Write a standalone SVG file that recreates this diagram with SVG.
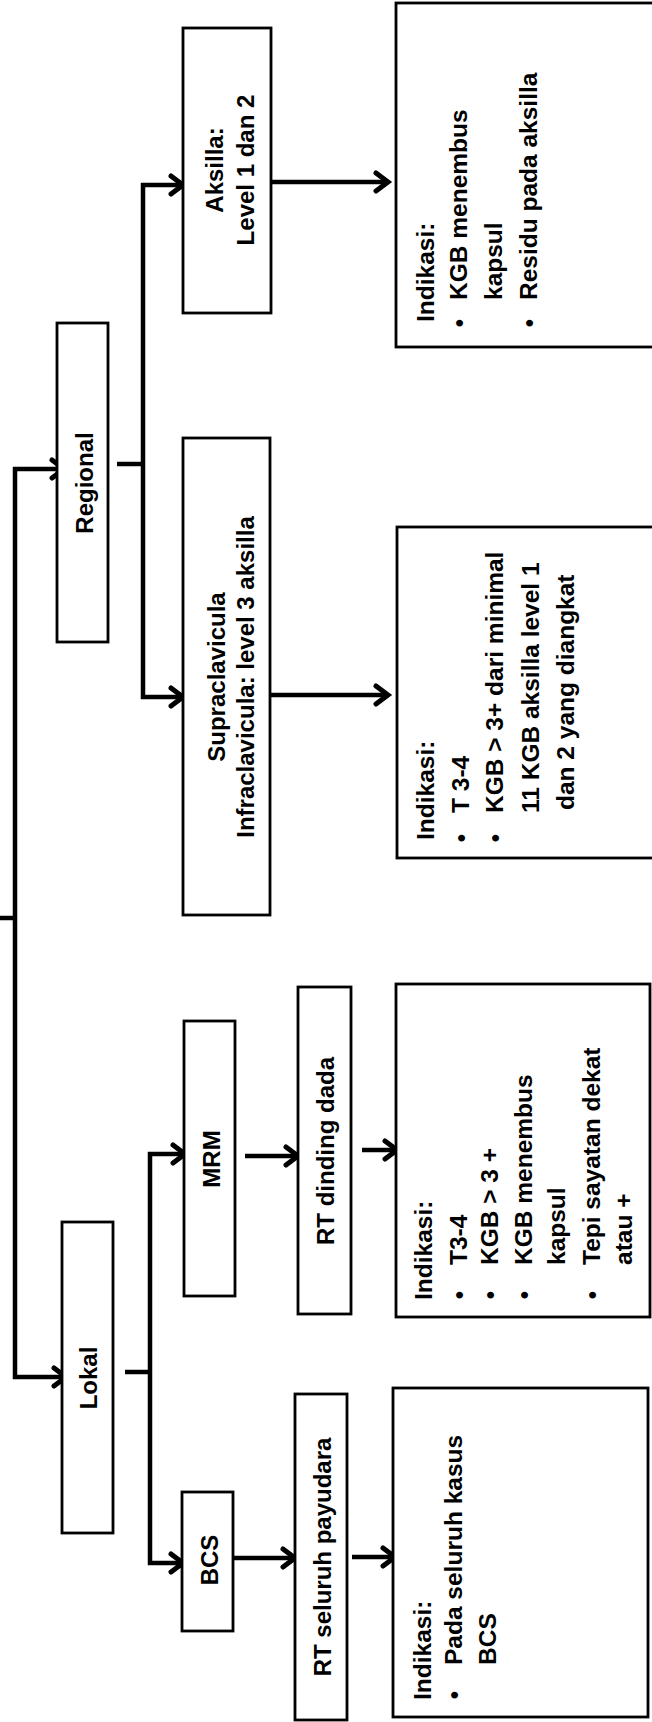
<svg xmlns="http://www.w3.org/2000/svg" width="652" height="1722" viewBox="0 0 652 1722">
<defs>
<style>
.box{fill:#fff;stroke:#000;stroke-width:2.8}
.con{fill:none;stroke:#000;stroke-width:4.5;stroke-linejoin:miter}
.lbl{font-family:"Liberation Sans",Arial,sans-serif;font-weight:bold;font-size:24px;fill:#000;text-anchor:middle;dominant-baseline:central}
.ind{font-family:"Liberation Sans",Arial,sans-serif;font-weight:bold;font-size:24.5px;fill:#000;text-anchor:start;dominant-baseline:central}
.bul{font-family:"Liberation Sans",Arial,sans-serif;font-weight:bold;font-size:24px;fill:#000;text-anchor:middle;dominant-baseline:central}
</style>
<marker id="ah" markerUnits="userSpaceOnUse" viewBox="0 0 18 22" refX="15" refY="11" markerWidth="18" markerHeight="22" orient="auto" overflow="visible">
<path d="M3,2 L15,11 L3,20" fill="none" stroke="#000" stroke-width="5" stroke-linejoin="miter" stroke-linecap="round"/>
</marker>
</defs>
<rect width="652" height="1722" fill="#fff"/>

<g id="connectors">
<path class="con" d="M0,918 H15"/>
<path class="con" d="M15,918 V469 H64" marker-end="url(#ah)"/>
<path class="con" d="M15,918 V1377 H66" marker-end="url(#ah)"/>
<path class="con" d="M117,464 H143"/>
<path class="con" d="M143,464 V185 H183" marker-end="url(#ah)"/>
<path class="con" d="M143,464 V697 H183" marker-end="url(#ah)"/>
<path class="con" d="M272,182 H388" marker-end="url(#ah)"/>
<path class="con" d="M264,695 H388" marker-end="url(#ah)"/>
<path class="con" d="M125,1372 H150"/>
<path class="con" d="M150,1372 V1154 H185" marker-end="url(#ah)"/>
<path class="con" d="M150,1372 V1563 H183" marker-end="url(#ah)"/>
<path class="con" d="M245,1156 H298" marker-end="url(#ah)"/>
<path class="con" d="M362,1150 H397" marker-end="url(#ah)"/>
<path class="con" d="M233,1558 H295" marker-end="url(#ah)"/>
<path class="con" d="M352,1557 H395" marker-end="url(#ah)"/>
</g>

<g id="regional">
<rect class="box" x="57" y="323" width="51" height="319"/>
<text class="lbl" transform="translate(84,483) rotate(-90)">Regional</text>
</g>

<g id="lokal">
<rect class="box" x="62" y="1222" width="51" height="311"/>
<text class="lbl" transform="translate(88,1378) rotate(-90)">Lokal</text>
</g>

<g id="aksilla">
<rect class="box" x="183" y="28" width="88" height="285"/>
<text class="lbl" transform="translate(214,170) rotate(-90)">Aksilla:</text>
<text class="lbl" transform="translate(245,170) rotate(-90)">Level 1 dan 2</text>
</g>

<g id="supraclavicula">
<rect class="box" x="183" y="438" width="87" height="477"/>
<text class="lbl" transform="translate(216,677) rotate(-90)">Supraclavicula</text>
<text class="lbl" transform="translate(245,677) rotate(-90)">Infraclavicula: level 3 aksilla</text>
</g>

<g id="mrm">
<rect class="box" x="184" y="1021" width="51" height="275"/>
<text class="lbl" transform="translate(211,1159) rotate(-90)">MRM</text>
</g>

<g id="bcs">
<rect class="box" x="182" y="1492" width="51" height="139"/>
<text class="lbl" transform="translate(209,1560) rotate(-90)">BCS</text>
</g>

<g id="rt-dinding-dada">
<rect class="box" x="298" y="987" width="53" height="327"/>
<text class="lbl" transform="translate(325,1151) rotate(-90)">RT dinding dada</text>
</g>

<g id="rt-seluruh-payudara">
<rect class="box" x="295" y="1394" width="52" height="326"/>
<text class="lbl" transform="translate(322,1557) rotate(-90)">RT seluruh payudara</text>
</g>

<g id="indikasi-aksilla">
<rect class="box" x="396" y="3" width="260" height="344"/>
<text class="ind" transform="translate(425,322) rotate(-90)">Indikasi:</text>
<text class="bul" transform="translate(458,323) rotate(-90)">•</text>
<text class="ind" transform="translate(458,300) rotate(-90)">KGB menembus</text>
<text class="ind" transform="translate(493,300) rotate(-90)">kapsul</text>
<text class="bul" transform="translate(528,323) rotate(-90)">•</text>
<text class="ind" transform="translate(528,300) rotate(-90)">Residu pada aksilla</text>
</g>

<g id="indikasi-supraclavicula">
<rect class="box" x="397" y="527" width="260" height="331"/>
<text class="ind" transform="translate(425,840) rotate(-90)">Indikasi:</text>
<text class="bul" transform="translate(460,838) rotate(-90)">•</text>
<text class="ind" transform="translate(460,813) rotate(-90)">T 3-4</text>
<text class="bul" transform="translate(494,838) rotate(-90)">•</text>
<text class="ind" transform="translate(494,813) rotate(-90)">KGB &gt; 3+ dari minimal</text>
<text class="ind" transform="translate(530,813) rotate(-90)">11 KGB aksilla level 1</text>
<text class="ind" transform="translate(565,810) rotate(-90)">dan 2 yang diangkat</text>
</g>

<g id="indikasi-mrm">
<rect class="box" x="396" y="984" width="254" height="333"/>
<text class="ind" transform="translate(423,1300) rotate(-90)">Indikasi:</text>
<text class="bul" transform="translate(458,1295) rotate(-90)">•</text>
<text class="ind" transform="translate(458,1265) rotate(-90)">T3-4</text>
<text class="bul" transform="translate(489,1295) rotate(-90)">•</text>
<text class="ind" transform="translate(489,1265) rotate(-90)">KGB &gt; 3 +</text>
<text class="bul" transform="translate(523,1295) rotate(-90)">•</text>
<text class="ind" transform="translate(523,1265) rotate(-90)">KGB menembus</text>
<text class="ind" transform="translate(556,1265) rotate(-90)">kapsul</text>
<text class="bul" transform="translate(591,1295) rotate(-90)">•</text>
<text class="ind" transform="translate(591,1265) rotate(-90)">Tepi sayatan dekat</text>
<text class="ind" transform="translate(623,1265) rotate(-90)">atau +</text>
</g>

<g id="indikasi-bcs">
<rect class="box" x="393" y="1388" width="255" height="329"/>
<text class="ind" transform="translate(422,1700) rotate(-90)">Indikasi:</text>
<text class="bul" transform="translate(453,1695) rotate(-90)">•</text>
<text class="ind" transform="translate(453,1665) rotate(-90)">Pada seluruh kasus</text>
<text class="ind" transform="translate(487,1665) rotate(-90)">BCS</text>
</g>
</svg>
